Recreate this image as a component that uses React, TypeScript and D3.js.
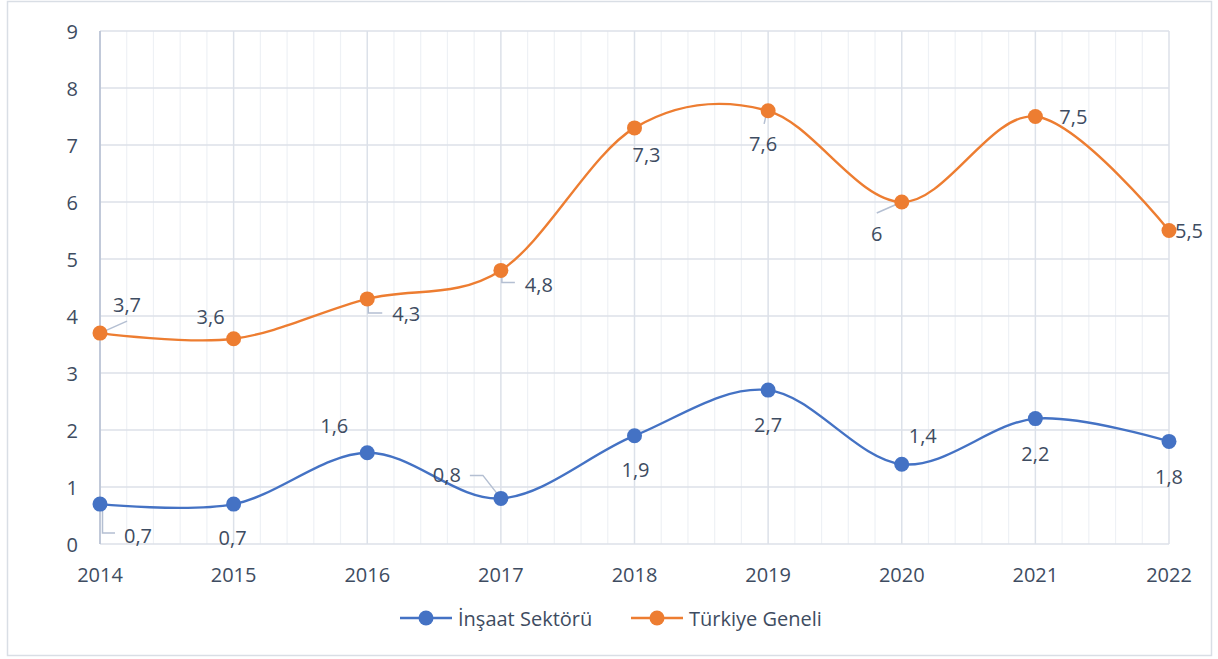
import React from "react";
import * as d3 from "d3";

const years = ["2014", "2015", "2016", "2017", "2018", "2019", "2020", "2021", "2022"];
const insaat = [0.7, 0.7, 1.6, 0.8, 1.9, 2.7, 1.4, 2.2, 1.8];
const turkiye = [3.7, 3.6, 4.3, 4.8, 7.3, 7.6, 6, 7.5, 5.5];
const yTicks = [0, 1, 2, 3, 4, 5, 6, 7, 8, 9];
const seriesNames = ["İnşaat Sektörü", "Türkiye Geneli"];

// label offsets (layout only)
const insaatLabelOff: [number, number][] = [
  [38, 31], [-1, 33], [-33, -27], [-54, -24], [1, 34], [0, 34], [21, -29], [0, 35], [0, 35],
];
const turkiyeLabelOff: [number, number][] = [
  [27, -29], [-23, -22], [39, 15], [38, 14], [12, 27], [-5, 33], [-25, 31], [38, 0], [20, 0],
];
// leader lines: list of relative points from data point, or null
const insaatLeaders: ([number, number][] | null)[] = [
  [[2.5, 0], [2.5, 29], [15, 29]], null, null, [[0, 0], [-18, -23], [-31, -23]], null, null, null, null, null,
];
const turkiyeLeaders: ([number, number][] | null)[] = [
  [[0, 0], [27, -12]], null, [[1, 0], [1, 14], [15, 14]], [[1, 0], [1, 12], [14, 12]], null, [[-1, 0], [-4, 13]], [[0, 0], [-25, 11]], null, null,
];

const BLUE = "#4472C4";
const ORANGE = "#ED7D31";
const TEXT = "#3E4C61";
const FONT = "'Open Sans', sans-serif";
const FS = 20;

export default function App() {
  const W = 1218, H = 659;
  const left = 100, right = 1169, top = 31, bottom = 544;
  const x = d3.scalePoint<string>().domain(years).range([left, right]);
  const y = d3.scaleLinear().domain([0, 9]).range([bottom, top]);
  const line = d3
    .line<number>()
    .x((_, i) => x(years[i]) as number)
    .y((d) => y(d))
    .curve(d3.curveCardinal.tension(0));

  const step = x.step();
  const minorX: number[] = [];
  for (let i = 0; i < years.length - 1; i++) {
    for (let k = 1; k < 5; k++) minorX.push(left + i * step + (k * step) / 5);
  }

  const series = [
    { name: seriesNames[0], data: insaat, color: BLUE, off: insaatLabelOff, leaders: insaatLeaders },
    { name: seriesNames[1], data: turkiye, color: ORANGE, off: turkiyeLabelOff, leaders: turkiyeLeaders },
  ];

  const legend = [
    { name: seriesNames[0], color: BLUE, x0: 400 },
    { name: seriesNames[1], color: ORANGE, x0: 631 },
  ];

  return (
    <svg width={W} height={H} style={{ position: "absolute", left: 0, top: 0, background: "#fff" }} fontFamily={FONT}>
      <rect x={7.5} y={1.5} width={1204} height={654} fill="#fff" stroke="#D9DEE5" strokeWidth={1.5} />
      {/* minor vertical grid */}
      {minorX.map((mx, i) => (
        <line key={"mx" + i} x1={mx} x2={mx} y1={top} y2={bottom} stroke="#EEF1F5" strokeWidth={1.2} />
      ))}
      {/* major vertical grid */}
      {years.map((yr) => (
        <line key={"vx" + yr} x1={x(yr)} x2={x(yr)} y1={top} y2={bottom} stroke="#DCE1E9" strokeWidth={1.5} />
      ))}
      {/* horizontal grid */}
      {yTicks.map((t) => (
        <line key={"hy" + t} x1={left} x2={right} y1={y(t)} y2={y(t)} stroke="#DCE1E9" strokeWidth={1.5} />
      ))}
      {/* y axis line */}
      <line x1={left} x2={left} y1={top} y2={bottom} stroke="#B4BFD2" strokeWidth={1.5} />
      {/* y tick labels */}
      {yTicks.map((t) => (
        <text key={"yl" + t} x={78} y={y(t)} textAnchor="end" dominantBaseline="central" fontSize={FS} fill={TEXT}>
          {t}
        </text>
      ))}
      {/* x tick labels */}
      {years.map((yr) => (
        <text key={"xl" + yr} x={x(yr)} y={574} textAnchor="middle" dominantBaseline="central" fontSize={FS} fill={TEXT}>
          {yr}
        </text>
      ))}
      {/* series */}
      {series.map((s) => (
        <g key={s.name}>
          <path d={line(s.data) || ""} fill="none" stroke={s.color} strokeWidth={2.4} />
          {s.leaders.map((ld, i) =>
            ld ? (
              <polyline
                key={"ld" + i}
                points={ld.map(([dx, dy]) => `${(x(years[i]) as number) + dx},${y(s.data[i]) + dy}`).join(" ")}
                fill="none"
                stroke="#B4BFD2"
                strokeWidth={1.5}
              />
            ) : null
          )}
          {s.data.map((v, i) => (
            <circle key={"c" + i} cx={x(years[i])} cy={y(v)} r={7.5} fill={s.color} />
          ))}
          {s.data.map((v, i) => (
            <text
              key={"t" + i}
              x={(x(years[i]) as number) + s.off[i][0]}
              y={y(v) + s.off[i][1]}
              textAnchor="middle"
              dominantBaseline="central"
              fontSize={FS}
              fill={TEXT}
            >
              {String(v).replace(".", ",")}
            </text>
          ))}
        </g>
      ))}
      {/* legend */}
      {legend.map((l) => (
        <g key={"lg" + l.name}>
          <line x1={l.x0} x2={l.x0 + 52} y1={618} y2={618} stroke={l.color} strokeWidth={2.4} />
          <circle cx={l.x0 + 26} cy={618} r={7.5} fill={l.color} />
          <text x={l.x0 + 58} y={618} dominantBaseline="central" fontSize={FS} fill={TEXT}>
            {l.name}
          </text>
        </g>
      ))}
    </svg>
  );
}
